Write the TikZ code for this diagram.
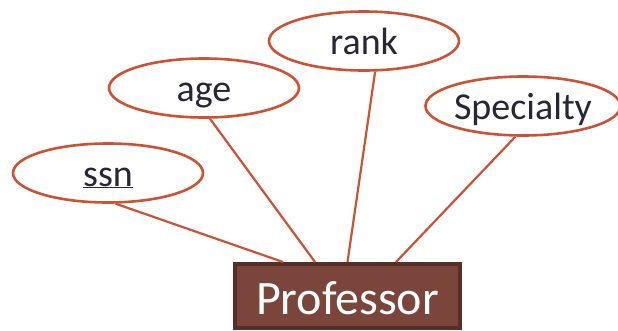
\documentclass[tikz,border=0pt]{standalone}
\usepackage{fontspec}
\setmainfont{Carlito}
\usepackage{tikz}
\usetikzlibrary{shapes.geometric}
\usepackage{xcolor}
\definecolor{attrline}{RGB}{205, 82, 52}
\definecolor{entityfill}{RGB}{122, 70, 60}
\definecolor{entityline}{RGB}{90, 46, 40}
\definecolor{textdark}{RGB}{38, 38, 52}

\begin{document}
\begin{tikzpicture}[x=1pt, y=-1pt,
    attribute/.style={draw=attrline, line width=2.6pt, ellipse, inner sep=0pt,
        minimum width=190pt, minimum height=59pt, text=textdark,
        text height=30pt, text depth=4pt,
        font=\fontsize{38}{40}\selectfont},
    entity/.style={draw=entityline, fill=entityfill, line width=4pt, rectangle,
        minimum width=225pt, minimum height=64pt, inner sep=0pt, text=white,
        text height=40pt, text depth=4pt,
        font=\fontsize{48}{52}\selectfont},
    link/.style={draw=attrline, line width=2.2pt}]
    \useasboundingbox (0,0) rectangle (618,330);
    % Entity
    \node[entity] (professor) at (347.5,296) {Professor};
    % Attributes
    \node[attribute] (ssn) at (108,173) {\underline{ssn}};
    \node[attribute] (age) at (204,88) {age};
    \node[attribute] (rank) at (364,41) {rank};
    \node[attribute] (specialty) at (523,106) {Specialty};
    
    % Links
    \draw[link] (ssn.-76) -- ([xshift=50pt]professor.north west);
    \draw[link] (age.-79) -- ([xshift=82pt]professor.north west);
    \draw[link] (rank.-70) -- (professor.north);
    \draw[link] (specialty.-104) -- ([xshift=163pt]professor.north west);
\end{tikzpicture}
\end{document}
